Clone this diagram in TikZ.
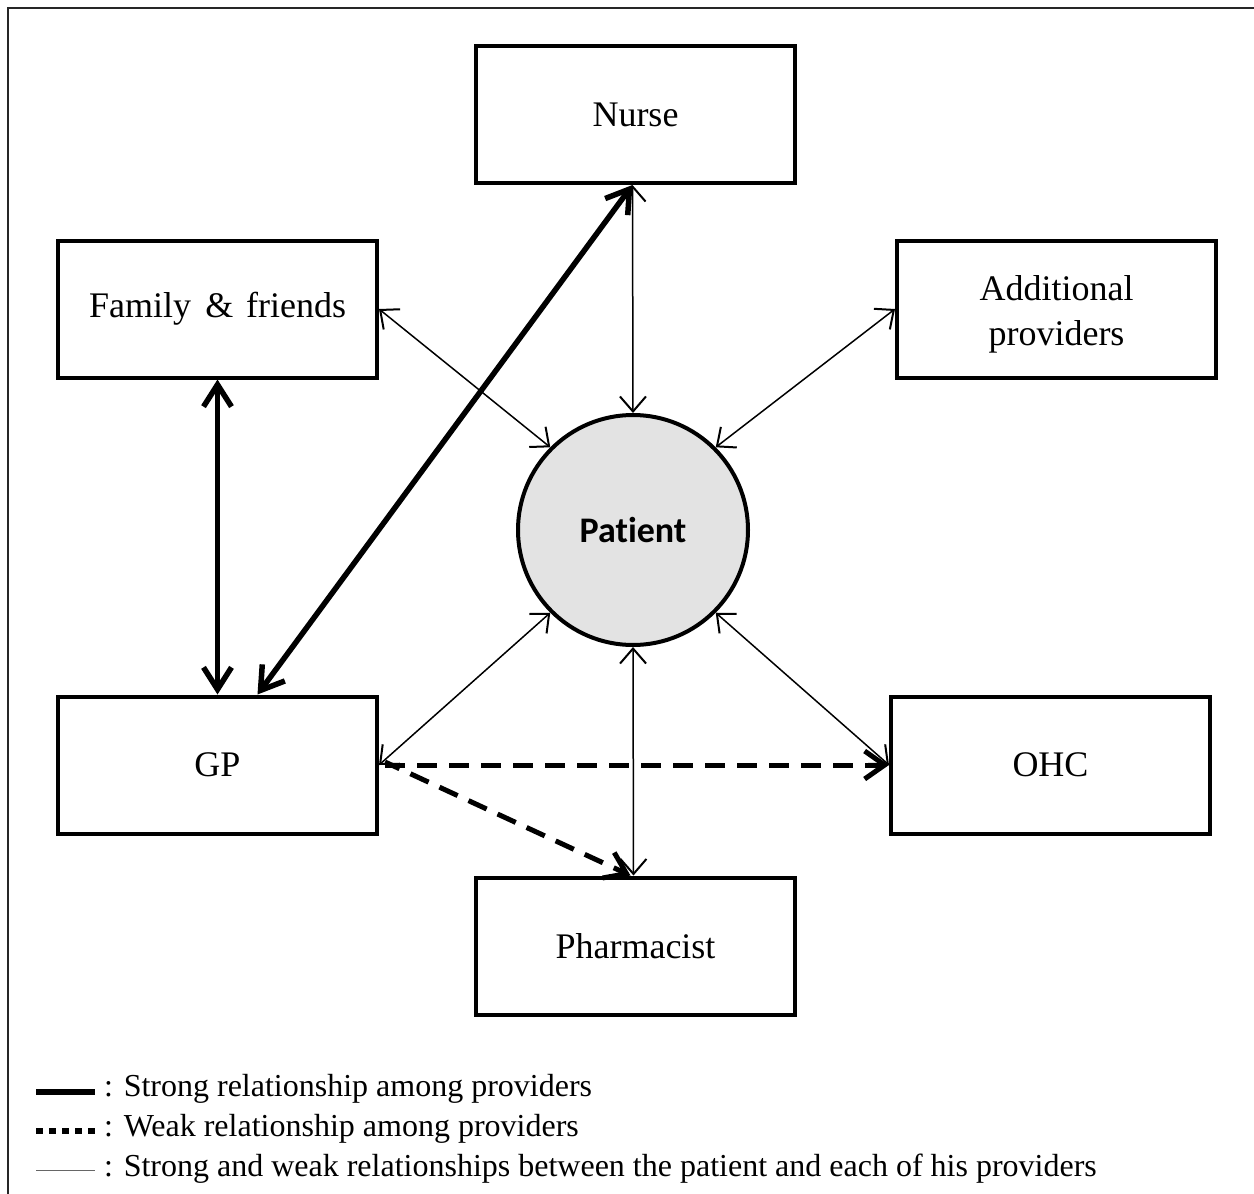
\documentclass[tikz,border=0pt]{standalone}
\usepackage{fontspec}
\setmainfont{Liberation Serif}
\newfontfamily\calfont[Ligatures=NoCommon]{Carlito}
\usetikzlibrary{arrows.meta}
\definecolor{patfill}{HTML}{E3E3E3}
\tikzset{
  provbox/.style={draw, line width=4pt, minimum width=319pt, minimum height=137pt, inner sep=0pt, align=center, font=\fontsize{36}{45}\selectfont},
  boxlabel/.style={inner sep=0pt, align=center, font=\fontsize{36}{45}\selectfont},
  patnode/.style={draw, circle, line width=4pt, fill=patfill, minimum size=230pt, inner sep=0pt, font=\calfont\bfseries\fontsize{36}{40}\selectfont},
  thinrel/.style={line width=1.5pt, {Straight Barb[length=15pt,width=26pt,line width=2pt]}-{Straight Barb[length=15pt,width=26pt,line width=2pt]}},
  strongrel/.style={line width=5.5pt, {Straight Barb[length=22pt,width=28pt]}-{Straight Barb[length=22pt,width=28pt]}},
  weakrel/.style={line width=5pt, dash pattern=on 20pt off 12pt, -{Straight Barb[length=20pt,width=28pt]}},
  legtext/.style={anchor=base west, inner sep=0pt, font=\fontsize{32}{36}\selectfont}
}
\begin{document}
\begin{tikzpicture}[x=1pt,y=-1pt]
\useasboundingbox (0,0) rectangle (1254,1194);
\draw[line width=2pt, black!85] (8,8) rectangle (1275,1215);

\node[provbox] (nurse) at (635.5,114.5) {Nurse};
\node[provbox] (fam) at (217.5,309) {Family\hspace{0.4em}\&\hspace{0.35em}friends};
\node[provbox] (add) at (1056.5,309) {};
\node[boxlabel] (addlabel) at (1056.5,314) {Additional\\providers};
\node[provbox] (gp) at (217.5,765) {GP};
\node[provbox] (ohc) at (1050.5,765) {OHC};
\node[provbox] (pharm) at (635.5,946) {Pharmacist};
\node[patnode] (pat) at (633,530) {Patient};

\draw[thinrel] ([xshift=-3pt]nurse.south) -- (pat.north);
\draw[thinrel] (fam.east) -- (pat.135);
\draw[thinrel] (add.west) -- (pat.45);
\draw[thinrel] (gp.east) -- (pat.225);
\draw[thinrel] (ohc.west) -- (pat.315);
\draw[thinrel] ([xshift=-2pt]pharm.north) -- (pat.south);

\draw[strongrel] (fam.south) -- (gp.north);
\draw[strongrel] ([xshift=-3pt]nurse.south) -- ([xshift=40pt]gp.north);

\draw[weakrel] ([xshift=6pt]gp.east) -- (ohc.west);
\draw[weakrel, dash phase=4pt] ([xshift=6pt,yshift=3pt]gp.east) -- ([xshift=-5pt]pharm.north);

\coordinate (l1a) at (36,1092);
\coordinate (l1b) at (95,1092);
\coordinate (l2a) at (36,1131);
\coordinate (l2b) at (95,1131);
\coordinate (l3a) at (36,1170);
\coordinate (l3b) at (95,1170);
\draw[line width=5.5pt] (l1a) -- (l1b);
\draw[line width=6pt, dash pattern=on 7pt off 6pt] (l2a) -- (l2b);
\draw[line width=1pt, black!60] (l3a) -- (l3b);
\node[legtext] (t1) at (104,1096) {: Strong relationship among providers};
\node[legtext] (t2) at (104,1136) {: Weak relationship among providers};
\node[legtext] (t3) at (104,1176) {: Strong and weak relationships between the patient and each of his providers};
\end{tikzpicture}
\end{document}
